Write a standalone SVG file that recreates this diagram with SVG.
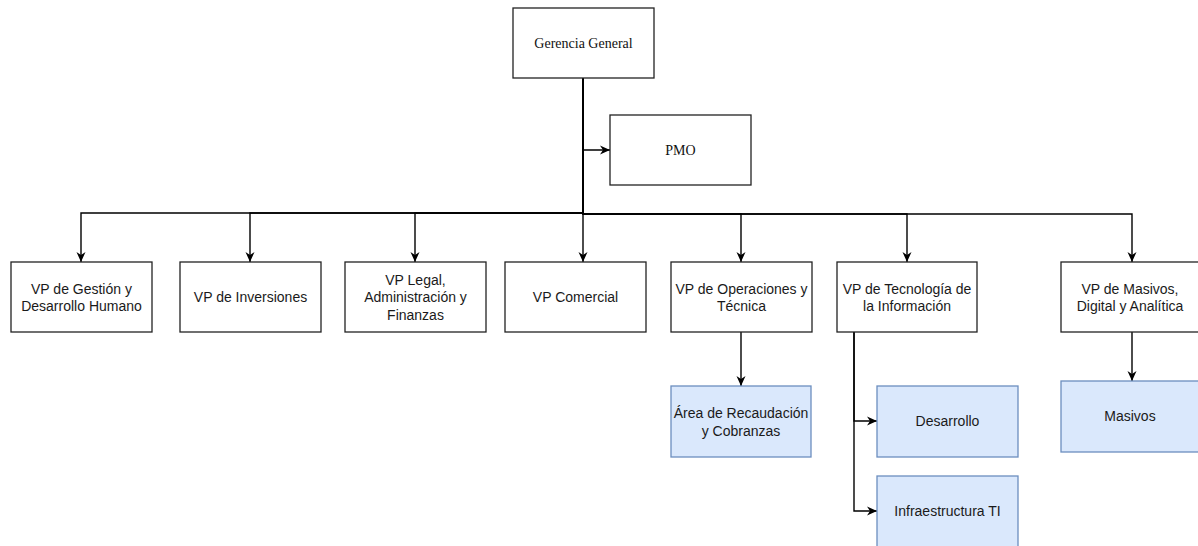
<svg xmlns="http://www.w3.org/2000/svg" width="1198" height="546" viewBox="0 0 1198 546">
  <defs>
    <marker id="arrow" viewBox="0 0 10 10" refX="10" refY="5" markerWidth="10" markerHeight="10" markerUnits="userSpaceOnUse" orient="auto">
      <path d="M0,0.5 L10,5 L0,9.5 L3,5 Z" fill="#000"/>
    </marker>
    <style>
      .box { fill: #ffffff; stroke: #222222; stroke-width: 1.3; }
      .sub { fill: #dae8fc; stroke: #6c8ebf; stroke-width: 1.3; }
      .edge { fill: none; stroke: #000000; stroke-width: 1.4; marker-end: url(#arrow); }
      .serif { font-family: "Liberation Serif", "Times New Roman", serif; font-size: 14px; fill: #111; text-anchor: middle; }
      .sans { font-family: "Liberation Sans", Arial, sans-serif; font-size: 14px; fill: #1a1a1a; text-anchor: middle; }
    </style>
  </defs>
  <rect width="1198" height="546" fill="#ffffff"/>

  <g id="connectors">
    <path class="edge" d="M583,78 V150 H610"/>
    <path class="edge" d="M583,78 V213 H81 V262"/>
    <path class="edge" d="M583,78 V213 H250 V262"/>
    <path class="edge" d="M583,78 V213 H415 V262"/>
    <path class="edge" d="M583,78 V262"/>
    <path class="edge" d="M583,78 V214 H741 V262"/>
    <path class="edge" d="M583,78 V214 H907 V262"/>
    <path class="edge" d="M583,78 V214 H1132 V262"/>
    <path class="edge" d="M741,332 V386"/>
    <path class="edge" d="M854,332 V421 H877"/>
    <path class="edge" d="M854,332 V511 H877"/>
    <path class="edge" d="M1132,332 V381"/>
  </g>

  <g id="gerencia-general">
    <rect class="box" x="513" y="8" width="141" height="70"/>
    <text class="serif" x="583.5" y="47.5">Gerencia General</text>
  </g>

  <g id="pmo">
    <rect class="box" x="610" y="115" width="141" height="70"/>
    <text class="serif" x="680.5" y="154.5">PMO</text>
  </g>

  <g id="vp-gestion">
    <rect class="box" x="11" y="262" width="141" height="70"/>
    <text class="sans" x="81.5" y="293.5">VP de Gestión y</text>
    <text class="sans" x="81.5" y="310.5">Desarrollo Humano</text>
  </g>

  <g id="vp-inversiones">
    <rect class="box" x="180" y="262" width="141" height="70"/>
    <text class="sans" x="250.5" y="301.5">VP de Inversiones</text>
  </g>

  <g id="vp-legal">
    <rect class="box" x="345" y="262" width="141" height="70"/>
    <text class="sans" x="415.5" y="284.5">VP Legal,</text>
    <text class="sans" x="415.5" y="302">Administración y</text>
    <text class="sans" x="415.5" y="319.5">Finanzas</text>
  </g>

  <g id="vp-comercial">
    <rect class="box" x="505" y="262" width="141" height="70"/>
    <text class="sans" x="575.5" y="301.5">VP Comercial</text>
  </g>

  <g id="vp-operaciones">
    <rect class="box" x="671" y="262" width="141" height="70"/>
    <text class="sans" x="741.5" y="293.5">VP de Operaciones y</text>
    <text class="sans" x="741.5" y="310.5">Técnica</text>
  </g>

  <g id="vp-tecnologia">
    <rect class="box" x="837" y="262" width="140" height="70"/>
    <text class="sans" x="907" y="293.5">VP de Tecnología de</text>
    <text class="sans" x="907" y="310.5">la Información</text>
  </g>

  <g id="vp-masivos">
    <rect class="box" x="1061" y="262" width="141" height="70"/>
    <text class="sans" x="1130" y="293.5">VP de Masivos,</text>
    <text class="sans" x="1130" y="310.5">Digital y Analítica</text>
  </g>

  <g id="area-recaudacion">
    <rect class="sub" x="671" y="386" width="140" height="71"/>
    <text class="sans" x="741" y="417.5">Área de Recaudación</text>
    <text class="sans" x="741" y="435.5">y Cobranzas</text>
  </g>

  <g id="desarrollo">
    <rect class="sub" x="877" y="386" width="141" height="71"/>
    <text class="sans" x="947.5" y="425.5">Desarrollo</text>
  </g>

  <g id="infraestructura-ti">
    <rect class="sub" x="877" y="476" width="141" height="72"/>
    <text class="sans" x="947.5" y="515.5">Infraestructura TI</text>
  </g>

  <g id="masivos">
    <rect class="sub" x="1061" y="381" width="141" height="71"/>
    <text class="sans" x="1130" y="421">Masivos</text>
  </g>
</svg>
